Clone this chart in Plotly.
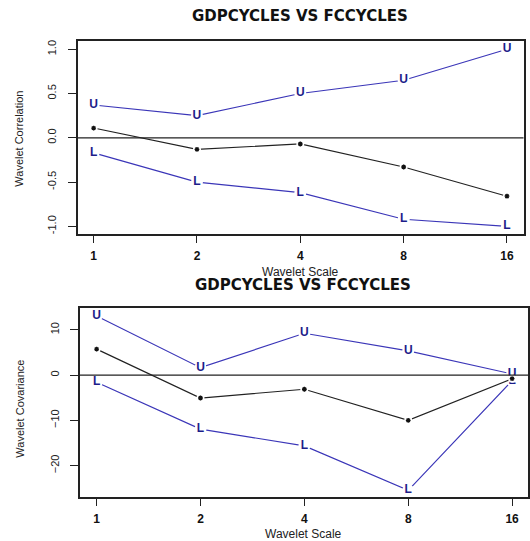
import plotly.graph_objects as go

# ---- data ----
scales = ["1", "2", "4", "8", "16"]

corr_upper = [0.37, 0.25, 0.50, 0.65, 1.00]
corr_est = [0.11, -0.13, -0.07, -0.33, -0.66]
corr_lower = [-0.17, -0.50, -0.62, -0.92, -1.00]

cov_upper = [13.06, 1.64, 9.25, 5.37, 0.25]
cov_est = [5.75, -5.07, -3.13, -10.0, -0.8]
cov_lower = [-1.57, -11.94, -15.67, -25.5, -1.25]

title_text = "GDPCYCLES VS FCCYCLES"
xlab = "Wavelet Scale"
ylab_top = "Wavelet Correlation"
ylab_bot = "Wavelet Covariance"

FONT = "Liberation Sans, Arial, sans-serif"
TFONT = "DejaVu Sans, Liberation Sans, sans-serif"
BLUE_LINE = "#3b36b8"
BLUE_TXT = "#1d1d8a"

pos = list(range(len(scales)))

fig = go.Figure()


def add_panel(xa, ya, upper, est, lower):
    for vals, lab in ((upper, "U"), (lower, "L")):
        fig.add_trace(go.Scatter(
            x=pos, y=vals, xaxis=xa, yaxis=ya,
            mode="lines+markers+text",
            line=dict(color=BLUE_LINE, width=1.2),
            marker=dict(color="white", size=12, line=dict(width=0)),
            text=[lab] * len(vals), textposition="middle center",
            textfont=dict(family=FONT, size=12, color=BLUE_TXT, weight="bold"),
            cliponaxis=False, hoverinfo="skip", showlegend=False))
    fig.add_trace(go.Scatter(
        x=pos, y=est, xaxis=xa, yaxis=ya,
        mode="lines+markers",
        line=dict(color="#222222", width=1.2),
        marker=dict(color="white", size=8, line=dict(width=0)),
        cliponaxis=False, hoverinfo="skip", showlegend=False))
    fig.add_trace(go.Scatter(
        x=pos, y=est, xaxis=xa, yaxis=ya,
        mode="markers",
        marker=dict(symbol="asterisk-open", size=4, color="#111111",
                    line=dict(width=1.3, color="#111111")),
        cliponaxis=False, hoverinfo="skip", showlegend=False))


add_panel("x", "y", corr_upper, corr_est, corr_lower)
add_panel("x2", "y2", cov_upper, cov_est, cov_lower)

xcommon = dict(
    tickmode="array", tickvals=pos, ticktext=scales,
    showline=True, linecolor="#222222", linewidth=1.5, mirror=True,
    ticks="outside", ticklen=7, tickcolor="#222222", tickwidth=1.2,
    showgrid=False, zeroline=False,
    tickfont=dict(family=FONT, size=12, color="#111111", weight="bold"),
    ticklabelstandoff=3,
)
ycommon = dict(
    showline=True, linecolor="#222222", linewidth=1.5, mirror=True,
    ticks="outside", ticklen=8, tickcolor="#222222", tickwidth=1.2,
    showgrid=False, zeroline=False, tickangle=-90,
    tickfont=dict(family=FONT, size=11, color="#222222"),
    ticklabelstandoff=7,
)

fig.update_layout(
    width=530, height=541,
    margin=dict(l=0, r=0, t=0, b=0),
    paper_bgcolor="white", plot_bgcolor="white",
    xaxis=dict(xcommon, domain=[0.1468, 0.9915], range=[-0.156, 4.16], anchor="y"),
    yaxis=dict(ycommon, domain=[0.5688, 0.9251], range=[-1.085, 1.088],
               tickvals=[-1.0, -0.5, 0.0, 0.5, 1.0],
               ticktext=["-1.0", "-0.5", "0.0", "0.5", "1.0"], anchor="x"),
    xaxis2=dict(xcommon, domain=[0.1511, 1.0], range=[-0.162, 4.153], anchor="y2"),
    yaxis2=dict(ycommon, domain=[0.0810, 0.4309], range=[-27.02, 14.77],
                tickvals=[-20, -10, 0, 10], anchor="x2"),
    shapes=[
        dict(type="line", xref="x domain", yref="y", x0=0, x1=1, y0=0, y1=0,
             line=dict(color="#222222", width=1.2), layer="above"),
        dict(type="line", xref="x2 domain", yref="y2", x0=0, x1=1, y0=0, y1=0,
             line=dict(color="#222222", width=1.2), layer="above"),
    ],
    annotations=[
        dict(text="<b>" + title_text + "</b>", xref="paper", yref="paper",
             x=0.569, y=0.9719, showarrow=False, xanchor="center", yanchor="middle",
             font=dict(family=TFONT, size=15, color="#111111")),
        dict(text=xlab, xref="paper", yref="paper", x=0.569, y=0.499,
             showarrow=False, xanchor="center", yanchor="middle",
             font=dict(family=FONT, size=12, color="#222222")),
        dict(text="<b>" + title_text + "</b>", xref="paper", yref="paper",
             x=0.5745, y=0.4747, showarrow=False, xanchor="center", yanchor="middle",
             font=dict(family=TFONT, size=15, color="#111111")),
        dict(text=xlab, xref="paper", yref="paper", x=0.5755, y=0.013,
             showarrow=False, xanchor="center", yanchor="middle",
             font=dict(family=FONT, size=12, color="#222222")),
        dict(text=ylab_top, xref="paper", yref="paper", x=0.036, y=0.745,
             showarrow=False, textangle=-90, xanchor="center", yanchor="middle",
             font=dict(family=FONT, size=11, color="#222222")),
        dict(text=ylab_bot, xref="paper", yref="paper", x=0.038, y=0.2452,
             showarrow=False, textangle=-90, xanchor="center", yanchor="middle",
             font=dict(family=FONT, size=11, color="#222222")),
    ],
)

fig.write_html("out.html", config={"displayModeBar": False},
               post_script="document.body.style.margin='0';document.body.style.padding='0';")
